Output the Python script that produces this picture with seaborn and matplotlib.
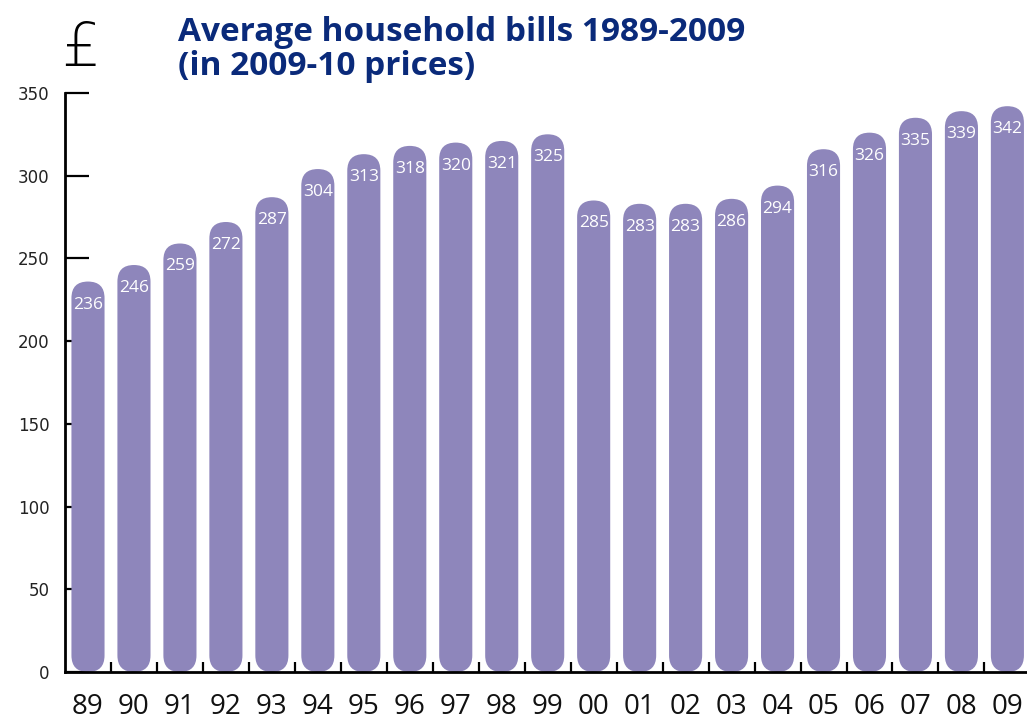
import matplotlib
matplotlib.use("Agg")
import matplotlib.pyplot as plt
import seaborn as sns
import pandas as pd
from matplotlib.patches import FancyBboxPatch

years = ["89", "90", "91", "92", "93", "94", "95", "96", "97", "98", "99",
         "00", "01", "02", "03", "04", "05", "06", "07", "08", "09"]
bills = [236, 246, 259, 272, 287, 304, 313, 318, 320, 321, 325,
         285, 283, 283, 286, 294, 316, 326, 335, 339, 342]
yticks = [0, 50, 100, 150, 200, 250, 300, 350]
title = "Average household bills 1989-2009\n(in 2009-10 prices)"

sns.set_style("white")
plt.rcParams["font.family"] = ["Open Sans", "DejaVu Sans"]

df = pd.DataFrame({"year": years, "bill": bills})

fig = plt.figure(figsize=(10.27, 7.2), dpi=100)
ax = fig.add_axes([0.0633, 0.0667, 0.94, 0.8042])
BAR = "#8e86bb"
sns.barplot(data=df, x="year", y="bill", color=BAR, width=0.72,
            saturation=1, ax=ax, order=years)

ax.set_xlim(-0.5, len(years) - 0.5)
ax.set_ylim(0, 350)

# aspect for rounding
bbox = ax.get_window_extent()
ypp = 350 / bbox.height
xpp = len(years) / bbox.width
aspect = ypp / xpp

patches = list(ax.patches)
for p in patches:
    x, w, h = p.get_x(), p.get_width(), p.get_height()
    p.remove()
    r = w / 2
    fb = FancyBboxPatch((x, 0), w, h,
                        boxstyle=f"round,pad=0,rounding_size={r}",
                        mutation_aspect=aspect, facecolor=BAR,
                        edgecolor="none", clip_on=False, zorder=2)
    ax.add_patch(fb)

for i, v in enumerate(bills):
    ax.annotate(str(v), (i, v), xytext=(0, -23), textcoords="offset pixels",
                ha="center", va="center", color="white", fontsize=12.5, zorder=3)

for s in ["top", "right"]:
    ax.spines[s].set_visible(False)
for s in ["left", "bottom"]:
    ax.spines[s].set_linewidth(2)
    ax.spines[s].set_color("black")
    ax.spines[s].set_zorder(4)

ax.set_yticks(yticks)
ax.set_yticklabels([str(t) for t in yticks], fontfamily="DejaVu Sans",
                   fontsize=12, color="#222222")
ax.tick_params(axis="y", direction="in", length=17, width=1.6, pad=11,
               left=True, color="black")
ax.set_xticks(range(len(years)))
ax.set_xticklabels(years, fontsize=20, color="#111111")
ax.tick_params(axis="x", which="major", length=0, pad=15)
ax.set_xticks([i + 0.5 for i in range(len(years) - 1)], minor=True)
ax.tick_params(axis="x", which="minor", direction="in", length=7, width=1.6,
               bottom=True, color="black")
ax.set_xlabel("")
ax.set_ylabel("")

fig.text(0.173, 0.978, title, ha="left", va="top", fontsize=24,
         fontweight="bold", color="#0a2a7a", linespacing=1.05)
fig.text(0.060, 0.908, "£", ha="left", va="baseline", fontsize=44,
         fontweight="light", color="black", fontfamily="DejaVu Sans")

fig.savefig("out.png", dpi=100)
